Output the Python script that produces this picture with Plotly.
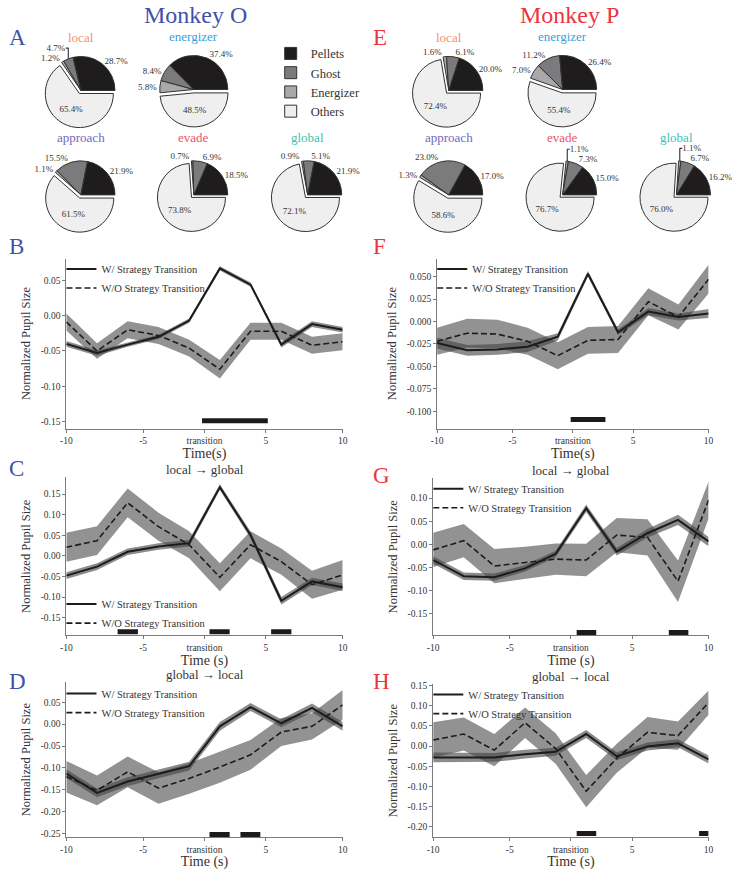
import plotly.graph_objects as go

W, H = 744, 870
SERIF = "Liberation Serif, DejaVu Serif, serif"
BLUE = "#3f51ad"
RED = "#ee3340"

# ---------------- pie data ----------------
PIE_LABELS = ["Pellets", "Ghost", "Energizer", "Others"]
PIE_COLORS = ["#1e1c1d", "#7b7b7d", "#a9a9ab", "#efefef"]
STRATEGIES = ["local", "energizer", "approach", "evade", "global"]
STRATEGY_COLORS = ["#f49070", "#3aa0dc", "#6b6bbf", "#f0506a", "#3cc3b0"]

O_LOCAL = [28.7, 4.7, 1.2, 65.4]
O_ENERGIZER = [37.4, 8.4, 5.8, 48.5]
O_APPROACH = [21.9, 15.5, 1.1, 61.5]
O_EVADE = [18.5, 6.9, 0.7, 73.8]
O_GLOBAL = [21.9, 5.1, 0.9, 72.1]

P_LOCAL = [20.0, 6.1, 1.6, 72.4]
P_ENERGIZER = [26.4, 11.2, 7.0, 55.4]
P_APPROACH = [17.0, 23.0, 1.3, 58.6]
P_EVADE = [15.0, 7.3, 1.1, 76.7]
P_GLOBAL = [16.2, 6.7, 1.1, 76.0]

# ---------------- time course data ----------------
TIMES = [-10.0, -7.78, -5.56, -3.33, -1.11, 1.11, 3.33, 5.56, 7.78, 10.0]
TICK_VALS = [-10.0, -4.44, 0.0, 4.44, 10.0]
TICK_TEXT = ["-10", "-5", "transition", "5", "10"]

B_W = [-0.040, -0.053, -0.041, -0.030, -0.007, 0.067, 0.044, -0.041, -0.012, -0.020]
B_W_SE = [0.004, 0.004, 0.003, 0.003, 0.003, 0.003, 0.003, 0.004, 0.004, 0.004]
B_WO = [-0.009, -0.050, -0.020, -0.028, -0.046, -0.076, -0.022, -0.022, -0.042, -0.037]
B_WO_SE = [0.012, 0.011, 0.012, 0.012, 0.012, 0.013, 0.012, 0.012, 0.012, 0.012]
B_SIG = [(-0.18, 4.58)]

F_W = [-0.024, -0.032, -0.031, -0.028, -0.017, 0.053, -0.012, 0.011, 0.005, 0.009]
F_W_SE = [0.006, 0.006, 0.006, 0.006, 0.004, 0.003, 0.003, 0.004, 0.004, 0.005]
F_WO = [-0.022, -0.013, -0.014, -0.022, -0.038, -0.021, -0.020, 0.022, 0.005, 0.047]
F_WO_SE = [0.015, 0.016, 0.016, 0.015, 0.015, 0.015, 0.015, 0.015, 0.014, 0.016]
F_SIG = [(-0.16, 2.40)]

C_W = [-0.048, -0.026, 0.010, 0.023, 0.031, 0.167, 0.051, -0.109, -0.062, -0.076]
C_W_SE = [0.008, 0.008, 0.008, 0.008, 0.008, 0.007, 0.008, 0.009, 0.009, 0.009]
C_WO = [0.021, 0.037, 0.129, 0.071, 0.027, -0.052, 0.027, -0.014, -0.070, -0.046]
C_WO_SE = [0.035, 0.035, 0.035, 0.034, 0.033, 0.034, 0.033, 0.032, 0.034, 0.036]
C_SIG = [(-6.29, -4.82), (0.36, 1.82), (4.82, 6.29)]

G_W = [-0.034, -0.069, -0.071, -0.052, -0.021, 0.078, -0.016, 0.024, 0.053, 0.006]
G_W_SE = [0.008, 0.008, 0.008, 0.007, 0.007, 0.008, 0.008, 0.009, 0.011, 0.010]
G_WO = [-0.012, 0.008, -0.047, -0.040, -0.032, -0.034, 0.020, 0.015, -0.080, 0.096]
G_WO_SE = [0.037, 0.036, 0.037, 0.035, 0.034, 0.035, 0.037, 0.039, 0.045, 0.040]
G_SIG = [(0.42, 1.84), (7.11, 8.53)]

D_W = [-0.113, -0.157, -0.131, -0.113, -0.096, -0.005, 0.039, 0.002, 0.037, -0.005]
D_W_SE = [0.010, 0.010, 0.010, 0.010, 0.010, 0.010, 0.009, 0.009, 0.010, 0.010]
D_WO = [-0.120, -0.151, -0.109, -0.146, -0.124, -0.098, -0.070, -0.018, -0.005, 0.044]
D_WO_SE = [0.036, 0.034, 0.035, 0.036, 0.035, 0.036, 0.034, 0.032, 0.030, 0.034]
D_SIG = [(0.36, 1.82), (2.60, 4.04)]

H_W = [-0.028, -0.028, -0.028, -0.020, -0.014, 0.030, -0.025, -0.001, 0.007, -0.033]
H_W_SE = [0.012, 0.012, 0.011, 0.011, 0.010, 0.010, 0.010, 0.010, 0.010, 0.010]
H_WO = [0.015, 0.030, -0.010, 0.058, -0.006, -0.112, -0.030, 0.034, 0.026, 0.108]
H_WO_SE = [0.044, 0.041, 0.040, 0.038, 0.038, 0.040, 0.036, 0.038, 0.035, 0.030]
H_SIG = [(0.42, 1.84), (9.31, 10.0)]


def fx(x):
    return x / W


def fy(y):
    return 1 - y / H


fig = go.Figure()
annotations = []

# ---------------- pies ----------------
# matplotlib draws Pellets, Ghost, Energizer, Others counter-clockwise from 3 o'clock;
# the same layout is obtained clockwise from 3 o'clock with the order reversed.
R = 35
PULL = 0.1
half = R * (1 + PULL)
pie_sets = [
    ("legend", [O_LOCAL, O_ENERGIZER, O_APPROACH, O_EVADE, O_GLOBAL],
     [(77, 88), (193, 87), (77, 193), (193, 193), (310, 193)]),
    ("legend2", [P_LOCAL, P_ENERGIZER, P_APPROACH, P_EVADE, P_GLOBAL],
     [(455, 88), (572, 87), (455, 193), (572, 193), (689, 193)]),
]
for leg, vals_list, centers in pie_sets:
    for i, (vals, (cx, cy)) in enumerate(zip(vals_list, centers)):
        fig.add_trace(go.Pie(
            labels=PIE_LABELS[::-1], values=vals[::-1], sort=False,
            direction="clockwise", rotation=90,
            pull=[PULL, 0, 0, 0],
            marker=dict(colors=PIE_COLORS[::-1], line=dict(color="#333333", width=1)),
            textposition=["inside", "outside", "outside", "outside"],
            texttemplate="%{value:.1f}%",
            insidetextorientation="horizontal",
            textfont=dict(family=SERIF, size=9, color="#333333"),
            domain=dict(x=[fx(cx - half), fx(cx + half)], y=[fy(cy + half), fy(cy - half)]),
            showlegend=(i == 0), legend=leg, hoverinfo="skip",
        ))
        title_gap = 18 if i < 2 else 23
        annotations.append(dict(
            x=fx(cx), y=fy(cy - R - title_gap), xref="paper", yref="paper",
            text=STRATEGIES[i], showarrow=False, xanchor="center", yanchor="middle",
            font=dict(family=SERIF, size=13, color=STRATEGY_COLORS[i])))

# ---------------- time-course panels ----------------
panels = [
    dict(ax="", dx=(62, 346), dy=(257, 428), yr=(-0.160, 0.081),
         yt=[-0.15, -0.10, -0.05, 0.00, 0.05], fmt="{:.2f}",
         w=B_W, wse=B_W_SE, wo=B_WO, wose=B_WO_SE, sig=B_SIG, sigy=-0.149,
         title=None, xt="Time(s)", leg="legend3", lp=(57, 253)),
    dict(ax="2", dx=(443, 722), dy=(257, 428), yr=(-0.119, 0.070),
         yt=[-0.100, -0.075, -0.050, -0.025, 0.000, 0.025, 0.050], fmt="{:.3f}",
         w=F_W, wse=F_W_SE, wo=F_WO, wose=F_WO_SE, sig=F_SIG, sigy=-0.109,
         title=None, xt="Time(s)", leg="legend4", lp=(438, 253)),
    dict(ax="3", dx=(62, 346), dy=(477, 636), yr=(-0.193, 0.191),
         yt=[-0.15, -0.10, -0.05, 0.00, 0.05, 0.10, 0.15], fmt="{:.2f}",
         w=C_W, wse=C_W_SE, wo=C_WO, wose=C_WO_SE, sig=C_SIG, sigy=-0.184,
         title="local → global", xt="Time (s)", leg="legend5", lp=(57, 590)),
    dict(ax="4", dx=(439, 722), dy=(478, 636), yr=(-0.197, 0.143),
         yt=[-0.15, -0.10, -0.05, 0.00, 0.05, 0.10], fmt="{:.2f}",
         w=G_W, wse=G_W_SE, wo=G_WO, wose=G_WO_SE, sig=G_SIG, sigy=-0.191,
         title="local → global", xt="Time (s)", leg="legend6", lp=(434, 474)),
    dict(ax="5", dx=(62, 346), dy=(683, 839), yr=(-0.258, 0.096),
         yt=[-0.25, -0.20, -0.15, -0.10, -0.05, 0.00, 0.05], fmt="{:.2f}",
         w=D_W, wse=D_W_SE, wo=D_WO, wose=D_WO_SE, sig=D_SIG, sigy=-0.252,
         title="global → local", xt="Time (s)", leg="legend7", lp=(57, 680)),
    dict(ax="6", dx=(439, 722), dy=(685, 839), yr=(-0.226, 0.154),
         yt=[-0.20, -0.15, -0.10, -0.05, 0.00, 0.05, 0.10, 0.15], fmt="{:.2f}",
         w=H_W, wse=H_W_SE, wo=H_WO, wose=H_WO_SE, sig=H_SIG, sigy=-0.217,
         title="global → local", xt="Time (s)", leg="legend8", lp=(434, 681)),
]

layout_extra = {}
for p in panels:
    xa = "x" + p["ax"]
    ya = "y" + p["ax"]
    for mean, se, col in [(p["wo"], p["wose"], "rgba(95,95,95,0.68)"),
                          (p["w"], p["wse"], "rgba(70,70,70,0.62)")]:
        lo = [m - s for m, s in zip(mean, se)]
        hi = [m + s for m, s in zip(mean, se)]
        fig.add_trace(go.Scatter(x=TIMES, y=lo, mode="lines", line=dict(width=0),
                                 showlegend=False, hoverinfo="skip", xaxis=xa, yaxis=ya))
        fig.add_trace(go.Scatter(x=TIMES, y=hi, mode="lines", line=dict(width=0),
                                 fill="tonexty", fillcolor=col, showlegend=False,
                                 hoverinfo="skip", xaxis=xa, yaxis=ya))
    fig.add_trace(go.Scatter(x=TIMES, y=p["w"], mode="lines", name="W/ Strategy Transition",
                             line=dict(color="#1c1c1c", width=2), xaxis=xa, yaxis=ya,
                             legend=p["leg"]))
    fig.add_trace(go.Scatter(x=TIMES, y=p["wo"], mode="lines", name="W/O Strategy Transition",
                             line=dict(color="#1c1c1c", width=1.6, dash="6px,3px"),
                             xaxis=xa, yaxis=ya, legend=p["leg"]))
    for (s, e) in p["sig"]:
        fig.add_trace(go.Scatter(x=[s, e], y=[p["sigy"], p["sigy"]], mode="lines",
                                 line=dict(color="#1c1a1b", width=5), showlegend=False,
                                 hoverinfo="skip", xaxis=xa, yaxis=ya))
    layout_extra["xaxis" + p["ax"]] = dict(
        domain=[fx(p["dx"][0]), fx(p["dx"][1])], range=[-10, 10], anchor=ya,
        tickvals=TICK_VALS, ticktext=TICK_TEXT, showgrid=False, zeroline=False,
        showline=True, linecolor="#7a7a7a", linewidth=1, ticks="outside", ticklen=3,
        tickcolor="#7a7a7a", tickfont=dict(family=SERIF, size=9.5, color="#333"),
        title=dict(text=p["xt"], font=dict(family=SERIF, size=14, color="#333"), standoff=3))
    layout_extra["yaxis" + p["ax"]] = dict(
        domain=[fy(p["dy"][1]), fy(p["dy"][0])], range=list(p["yr"]), anchor=xa,
        tickvals=p["yt"], ticktext=[p["fmt"].format(v).replace("-0.000", "0.000") for v in p["yt"]],
        showgrid=False, zeroline=False,
        showline=True, linecolor="#7a7a7a", linewidth=1, ticks="outside", ticklen=3,
        tickcolor="#7a7a7a", tickfont=dict(family=SERIF, size=9.5, color="#333"),
        title=dict(text="Normalized Pupil Size", font=dict(family=SERIF, size=12.5, color="#333"),
                   standoff=7))
    layout_extra[p["leg"]] = dict(
        x=fx(p["lp"][0]), y=fy(p["lp"][1]), xanchor="left", yanchor="top",
        bgcolor="rgba(0,0,0,0)", font=dict(family=SERIF, size=10.5, color="#333"),
        tracegroupgap=0, itemwidth=30)
    if p["title"]:
        annotations.append(dict(
            x=fx((p["dx"][0] + p["dx"][1]) / 2), y=fy(p["dy"][0] - 8), xref="paper", yref="paper",
            text=p["title"], showarrow=False, xanchor="center", yanchor="middle",
            font=dict(family=SERIF, size=13, color="#333")))

annotations.append(dict(x=fx(195), y=fy(12), xref="paper", yref="paper", text="Monkey O",
                        showarrow=False, xanchor="center", yanchor="middle",
                        font=dict(family=SERIF, size=24, color=BLUE)))
annotations.append(dict(x=fx(579), y=fy(12), xref="paper", yref="paper", text="Monkey P",
                        showarrow=False, xanchor="center", yanchor="middle",
                        font=dict(family=SERIF, size=24, color=RED)))
for letter, x, y, col in [("A", 1, 35, BLUE), ("B", 1, 245, BLUE), ("C", 1, 468, BLUE),
                          ("D", 1, 682, BLUE), ("E", 375, 35, RED), ("F", 375, 245, RED),
                          ("G", 375, 475, RED), ("H", 375, 682, RED)]:
    annotations.append(dict(x=fx(x), y=fy(y), xref="paper", yref="paper", text=letter,
                            showarrow=False, xanchor="left", yanchor="middle",
                            font=dict(family=SERIF, size=23, color=col)))

fig.update_layout(
    width=W, height=H, margin=dict(l=0, r=0, t=0, b=0),
    paper_bgcolor="white", plot_bgcolor="white",
    font=dict(family=SERIF, color="#333"),
    legend=dict(x=fx(272), y=fy(36), xanchor="left", yanchor="top", traceorder="reversed",
                font=dict(family=SERIF, size=12.5, color="#333"), bgcolor="rgba(0,0,0,0)"),
    legend2=dict(x=fx(650), y=fy(36), xanchor="left", yanchor="top", traceorder="reversed",
                 font=dict(family=SERIF, size=12.5, color="#333"), bgcolor="rgba(0,0,0,0)"),
    annotations=annotations,
    **layout_extra,
)

fig.write_html("out.html", config={"displayModeBar": False},
               post_script="document.body.style.margin='0px';")
